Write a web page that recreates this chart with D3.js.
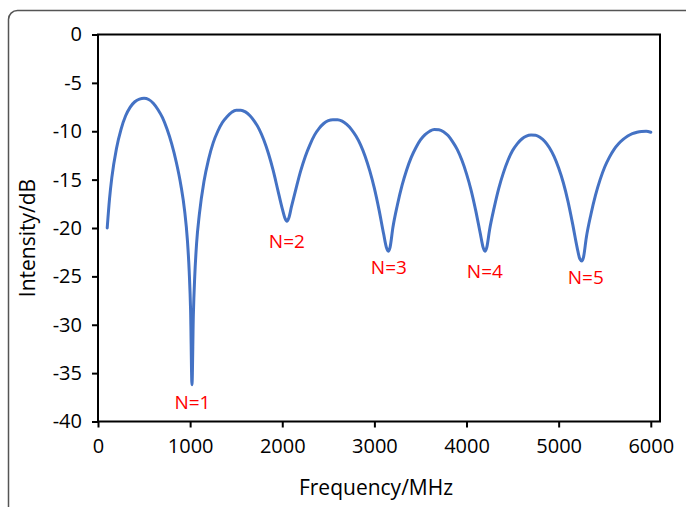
<!DOCTYPE html>
<html>
<head>
<meta charset="utf-8">
<script src="https://cdn.jsdelivr.net/npm/d3@7"></script>
<style>
  body { margin: 0; background: #fff; }
  svg { display: block; font-family: "Open Sans", sans-serif; }
</style>
</head>
<body>
<div id="chart"></div>
<script>
// frequency (MHz) and intensity (dB)
const freq = [
  100, 125, 150, 200, 250, 300, 350, 400, 450, 500, 550, 600, 650, 700, 750, 800, 850, 900, 940, 970, 990, 1005, 1020,
  1035, 1050, 1070, 1100, 1150, 1200, 1250, 1300, 1350, 1400, 1450, 1500, 1550, 1600, 1650, 1700, 1750, 1800, 1850, 1900, 1950, 2000, 2030, 2050,
  2070, 2100, 2150, 2200, 2250, 2300, 2350, 2400, 2450, 2500, 2550, 2600, 2650, 2700, 2750, 2800, 2850, 2900, 2950, 3000, 3050, 3100, 3130, 3150,
  3170, 3200, 3250, 3300, 3350, 3400, 3450, 3500, 3550, 3600, 3650, 3700, 3750, 3800, 3850, 3900, 3950, 4000, 4050, 4100, 4150, 4180, 4200,
  4220, 4250, 4300, 4350, 4400, 4450, 4500, 4550, 4600, 4650, 4700, 4750, 4800, 4850, 4900, 4950, 5000, 5050, 5100, 5150, 5200, 5230, 5250,
  5270, 5300, 5350, 5400, 5450, 5500, 5550, 5600, 5650, 5700, 5750, 5800, 5850, 5900, 5950, 6000
];
const intensity = [
  -20.0, -17.0, -14.8, -11.8, -9.8, -8.4, -7.5, -6.95, -6.68, -6.6, -6.72, -7.1, -7.75, -8.6, -9.8, -11.3, -13.2, -15.6, -18.2, -21.2, -24.5, -28.5, -36.2,
  -29.0, -25.0, -21.6, -18.6, -15.2, -12.9, -11.2, -10.0, -9.1, -8.5, -8.05, -7.82, -7.82, -8.0, -8.4, -9.0, -9.8, -10.9, -12.3, -14.0, -16.0, -18.0, -19.0, -19.3,
  -19.0, -17.8, -15.9, -14.1, -12.6, -11.4, -10.4, -9.7, -9.2, -8.9, -8.8, -8.8, -8.95, -9.3, -9.8, -10.5, -11.4, -12.6, -14.1, -15.9, -18.1, -20.6, -22.0, -22.4,
  -22.0, -20.0, -17.6, -15.6, -14.0, -12.7, -11.7, -10.9, -10.35, -10.0, -9.82, -9.85, -10.05, -10.45, -11.1, -11.9, -13.0, -14.4, -16.1, -18.2, -20.6, -22.0, -22.4,
  -22.0, -20.2, -17.9, -15.9, -14.3, -13.0, -12.0, -11.3, -10.8, -10.5, -10.4, -10.42, -10.65, -11.05, -11.7, -12.6, -13.8, -15.3, -17.2, -19.5, -22.0, -23.2, -23.4,
  -23.0, -21.0, -18.6, -16.6, -15.0, -13.7, -12.7, -11.9, -11.3, -10.85, -10.5, -10.25, -10.1, -10.02, -10.0, -10.1
];

// dip labels
const dipLabels = ["N=1", "N=2", "N=3", "N=4", "N=5"];
const dipLabelFreq = [1025, 2050, 3157, 4199, 5295];
const dipLabelDb = [-38.0, -21.4, -24.1, -24.5, -25.1];

const xTicks = [0, 1000, 2000, 3000, 4000, 5000, 6000];
const yTicks = [0, -5, -10, -15, -20, -25, -30, -35, -40];

const width = 686, height = 507;
const margin = { top: 34.5, right: 26, bottom: 85.5, left: 98 };

const svg = d3.select("#chart").append("svg")
  .attr("width", width)
  .attr("height", height);

// outer frame
svg.append("rect")
  .attr("x", 8.5).attr("y", 10.5)
  .attr("width", 690).attr("height", 520)
  .attr("rx", 9)
  .attr("fill", "none")
  .attr("stroke", "#555")
  .attr("stroke-width", 1.5);

const x = d3.scaleLinear().domain([0, 6100]).range([margin.left, width - margin.right]);
const y = d3.scaleLinear().domain([-40, 0]).range([height - margin.bottom, margin.top]);

// x axis
const xAxis = svg.append("g")
  .attr("transform", "translate(0," + y(-40) + ")")
  .call(d3.axisBottom(x).tickValues(xTicks).tickFormat(function (d) { return String(d); })
    .tickSize(6).tickSizeOuter(0).tickPadding(11));
xAxis.select(".domain").remove();
xAxis.selectAll("line").attr("stroke", "#000").attr("stroke-width", 2);
xAxis.selectAll("text").attr("font-size", 20).attr("fill", "#000").attr("font-family", "Open Sans");

// y axis
const yAxis = svg.append("g")
  .attr("transform", "translate(" + x(0) + ",0)")
  .call(d3.axisLeft(y).tickValues(yTicks).tickFormat(function (d) { return String(d); })
    .tickSize(6).tickSizeOuter(0).tickPadding(10));
yAxis.select(".domain").remove();
yAxis.selectAll("line").attr("stroke", "#000").attr("stroke-width", 2);
yAxis.selectAll("text").attr("font-size", 20).attr("fill", "#000").attr("font-family", "Open Sans");

// plot box
svg.append("rect")
  .attr("x", x(0)).attr("y", y(0))
  .attr("width", x(6100) - x(0))
  .attr("height", y(-40) - y(0))
  .attr("fill", "none")
  .attr("stroke", "#000")
  .attr("stroke-width", 2);

// curve
const pts = freq.map(function (f, i) { return [f, intensity[i]]; });
const line = d3.line()
  .x(function (d) { return x(d[0]); })
  .y(function (d) { return y(d[1]); })
  .curve(d3.curveMonotoneX);

svg.append("path")
  .datum(pts)
  .attr("d", line)
  .attr("fill", "none")
  .attr("stroke", "#4472C4")
  .attr("stroke-width", 3)
  .attr("stroke-linejoin", "round")
  .attr("stroke-linecap", "round");

// labels at dips
svg.selectAll(".dip")
  .data(dipLabels)
  .enter().append("text")
  .attr("class", "dip")
  .attr("x", function (d, i) { return x(dipLabelFreq[i]); })
  .attr("y", function (d, i) { return y(dipLabelDb[i]); })
  .attr("dy", "0.35em")
  .attr("text-anchor", "middle")
  .attr("font-size", 19)
  .attr("fill", "#ff0000")
  .text(function (d) { return d; });

// axis titles
svg.append("text")
  .attr("x", 376).attr("y", 488)
  .attr("dy", "0.35em")
  .attr("text-anchor", "middle")
  .attr("font-size", 21)
  .text("Frequency/MHz");

svg.append("text")
  .attr("transform", "translate(28,238)rotate(-90)")
  .attr("dy", "0.35em")
  .attr("text-anchor", "middle")
  .attr("font-size", 21)
  .text("Intensity/dB");
</script>
</body>
</html>
